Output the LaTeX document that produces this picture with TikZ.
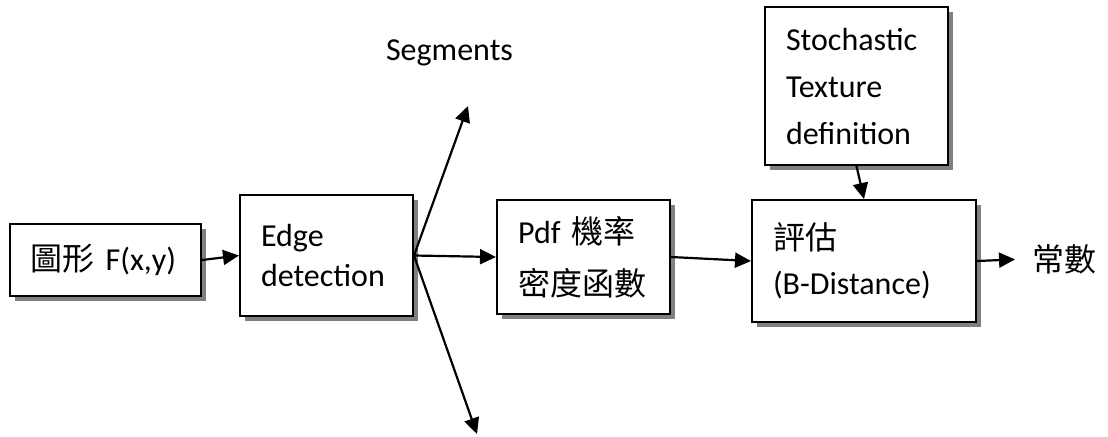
\documentclass[tikz,border=0pt]{standalone}
\usepackage{fontspec}
\setmainfont{Carlito}
\newfontfamily\cjk{Noto Sans CJK TC}
\usetikzlibrary{arrows.meta,shadows,calc}
\tikzset{
    block/.style={draw, line width=1pt, fill=white, align=left,
        inner xsep=10.5pt, inner ysep=0pt,
        drop shadow={shadow xshift=2.5pt, shadow yshift=-2.5pt, fill=black!50, opacity=1}},
    lines/.style={font=\fontsize{16}{#1}\selectfont},
    arr/.style={-{Triangle[length=8pt,width=7.5pt]}, line width=1.1pt},
}
\tikzstyle{every node}=[font=\fontsize{16}{20}\selectfont]

\begin{document}
\begin{tikzpicture}[x=0.5pt,y=-0.5pt]
        \useasboundingbox (0,0) rectangle (1108,436);

        % processing chain
        \node[block, text width=74.5pt, minimum height=36pt] (img) at (105.5,260)
            {{\cjk 圖形} F(x,y)};
        \node[block, lines=20, text width=65.5pt, minimum height=60.5pt] (edge) at (326.5,255.5)
            {Edge\\detection};
        \node[block, lines=26, text width=65.5pt, minimum height=57pt] (pdf) at (583.5,257)
            {Pdf {\cjk 機率}\\{\cjk 密度函數}};
        \node[block, lines=22.5, text width=91pt, minimum height=61pt] (eval) at (864,261)
            {{\cjk 評估}\\(B-Distance)};
        \node[block, lines=23.5, text width=70.5pt, minimum height=79pt] (stoch) at (856.5,86)
            {Stochastic\\Texture\\definition};
        \node (seglabel) at (449.5,53) {Segments};
        \node[anchor=west] (const) at (1025,259) {\cjk 常數};

        \coordinate (segup) at (468,106);
        \coordinate (segdown) at (477,434);

        \draw[arr] (img.east) -- (edge.west);
        \draw[arr] (edge.east) -- (segup);
        \draw[arr] (edge.east) -- (segdown);
        \draw[arr] (edge.east) -- (pdf.west);
        \draw[arr] (pdf.east) -- (eval.west);
        \draw[arr] (stoch.south) -- (eval.north);
        \draw[arr, shorten >=5pt] (eval.east) -- (const.west);
    \end{tikzpicture}
\end{document}
